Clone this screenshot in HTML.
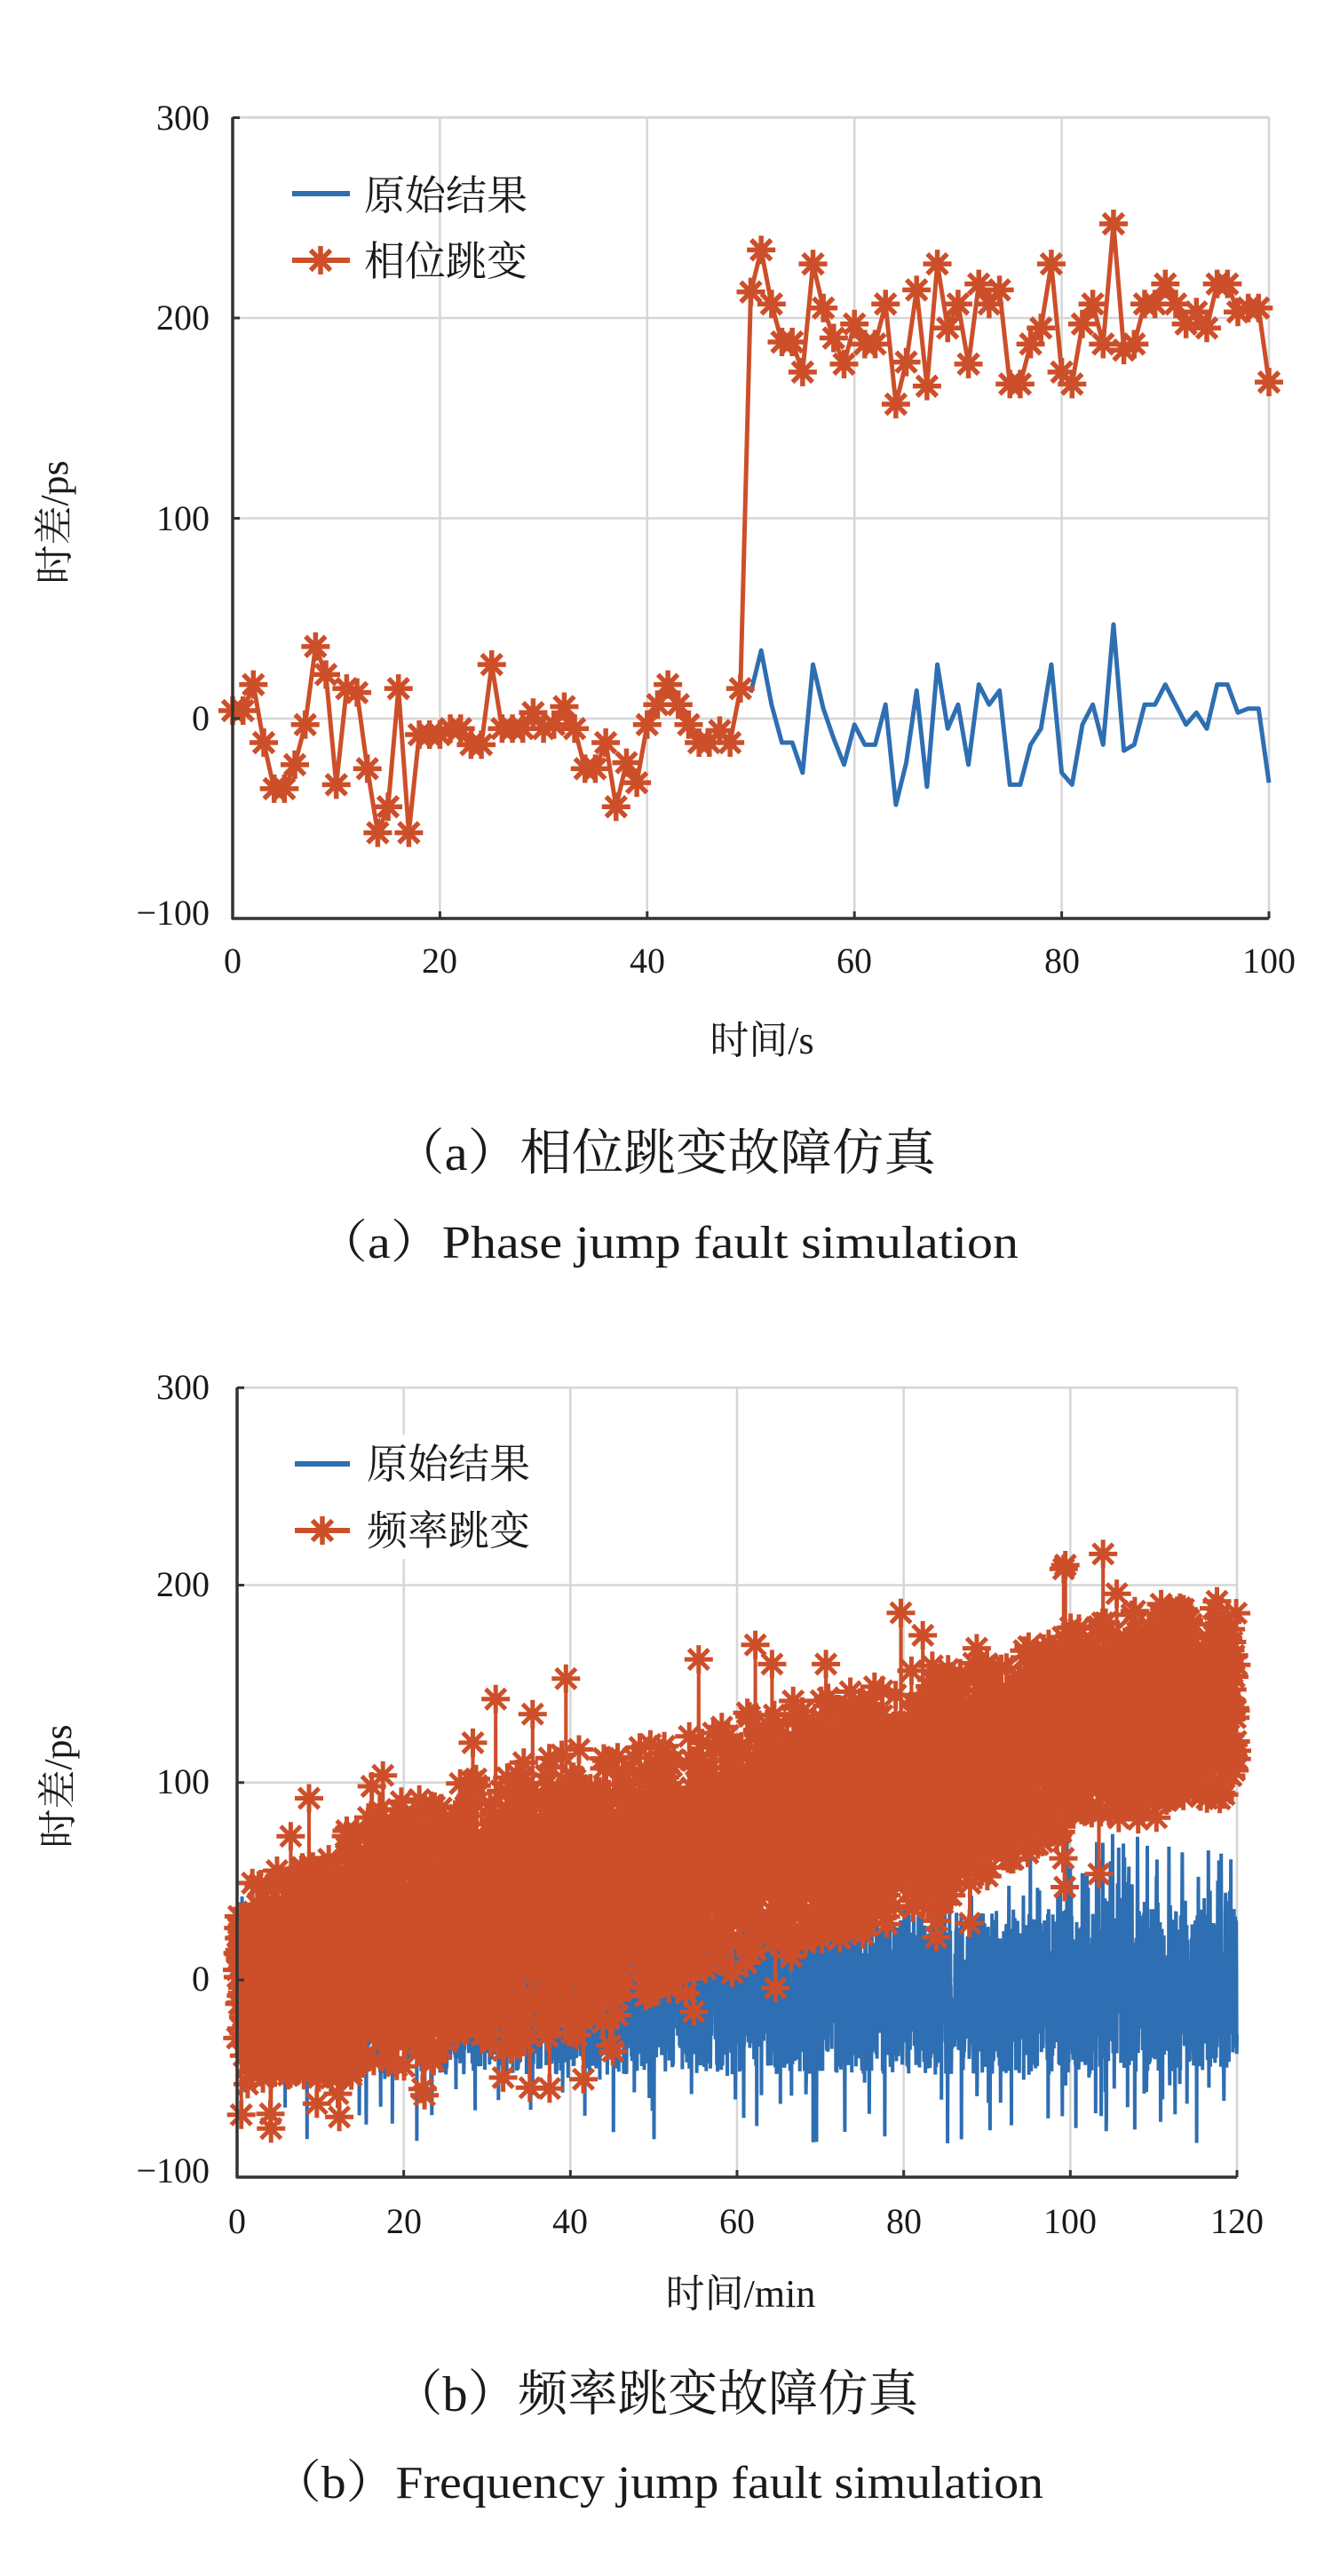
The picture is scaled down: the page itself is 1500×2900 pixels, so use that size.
<!DOCTYPE html>
<html><head><meta charset="utf-8"><style>
html,body{margin:0;padding:0;background:#fff;}
svg{display:block;}
text{font-family:"Liberation Serif","Noto Serif CJK SC",serif;fill:#1a1a1a;}
</style></head><body>
<svg id="s" width="1500" height="2900" viewBox="0 0 1500 2900" xmlns="http://www.w3.org/2000/svg">
<rect width="1500" height="2900" fill="#fff"/>
<g id="g1"></g>
<g id="g2"></g>
<g font-size="40" text-anchor="end">
<text x="236" y="146">300</text>
<text x="236" y="371">200</text>
<text x="236" y="597">100</text>
<text x="236" y="822">0</text>
<text x="236" y="1041">−100</text>
</g>
<g font-size="40" text-anchor="middle">
<text x="262" y="1095">0</text>
<text x="495" y="1095">20</text>
<text x="729" y="1095">40</text>
<text x="962" y="1095">60</text>
<text x="1196" y="1095">80</text>
<text x="1429" y="1095">100</text>
</g>
<text x="858" y="1186" font-size="44" text-anchor="middle">时间/s</text>
<text transform="translate(76,588) rotate(-90)" font-size="44" text-anchor="middle">时差/ps</text>
<text x="410" y="236" font-size="46">原始结果</text>
<text x="410" y="310" font-size="46">相位跳变</text>
<text x="442" y="1317" font-size="56" textLength="612" lengthAdjust="spacingAndGlyphs">（a）相位跳变故障仿真</text>
<text x="356" y="1416" font-size="52" textLength="791" lengthAdjust="spacingAndGlyphs">（a）Phase jump fault simulation</text>
<g font-size="40" text-anchor="end">
<text x="236" y="1575">300</text>
<text x="236" y="1797">200</text>
<text x="236" y="2019">100</text>
<text x="236" y="2241">0</text>
<text x="236" y="2457">−100</text>
</g>
<g font-size="40" text-anchor="middle">
<text x="267" y="2514">0</text>
<text x="455" y="2514">20</text>
<text x="642" y="2514">40</text>
<text x="830" y="2514">60</text>
<text x="1018" y="2514">80</text>
<text x="1205" y="2514">100</text>
<text x="1393" y="2514">120</text>
</g>
<text x="834" y="2597" font-size="44" text-anchor="middle">时间/min</text>
<text transform="translate(80,2011) rotate(-90)" font-size="44" text-anchor="middle">时差/ps</text>
<text x="413" y="1664" font-size="46">原始结果</text>
<text x="413" y="1739" font-size="46">频率跳变</text>
<text x="442" y="2714" font-size="56" textLength="592" lengthAdjust="spacingAndGlyphs">（b）频率跳变故障仿真</text>
<text x="306" y="2812" font-size="52" textLength="869" lengthAdjust="spacingAndGlyphs">（b）Frequency jump fault simulation</text>
</svg>
<script>
var NS="http://www.w3.org/2000/svg";
var OR="#CD4F2A",BL="#2E6EB2";
function el(p,tag,a){var e=document.createElementNS(NS,tag);for(var k in a)e.setAttribute(k,a[k]);p.appendChild(e);return e;}
function star(x,y,r){var d="",c=r*0.7071;
d+="M"+(x-r)+" "+y+"h"+(2*r)+"M"+x+" "+(y-r)+"v"+(2*r);
d+="M"+(x-c).toFixed(1)+" "+(y-c).toFixed(1)+"l"+(2*c).toFixed(1)+" "+(2*c).toFixed(1)+"M"+(x-c).toFixed(1)+" "+(y+c).toFixed(1)+"l"+(2*c).toFixed(1)+" "+(-2*c).toFixed(1);return d;}
function frame(g,L,R,T,B,xt,yt){
  xt.forEach(function(x){el(g,"line",{x1:x,x2:x,y1:T,y2:B,stroke:"#d6d6d6","stroke-width":2.5});});
  yt.forEach(function(y){el(g,"line",{x1:L,x2:R,y1:y,y2:y,stroke:"#d6d6d6","stroke-width":2.5});});
  el(g,"line",{x1:R,x2:R,y1:T,y2:B,stroke:"#d6d6d6","stroke-width":2.5});
  el(g,"line",{x1:L,x2:R,y1:T,y2:T,stroke:"#d6d6d6","stroke-width":2.5});
}
function axes(g,L,R,T,B,xt,yt){
  el(g,"line",{x1:L,x2:L,y1:T,y2:B+1,stroke:"#333","stroke-width":3.5});
  el(g,"line",{x1:L-1,x2:R,y1:B,y2:B,stroke:"#333","stroke-width":3.5});
  yt.forEach(function(y){el(g,"line",{x1:L,x2:L+8,y1:y,y2:y,stroke:"#333","stroke-width":3});});
  xt.forEach(function(x){el(g,"line",{x1:x,x2:x,y1:B,y2:B-8,stroke:"#333","stroke-width":3});});
}
(function(){
var g=document.getElementById("g1");
var L=262,R=1429,T=132,B=1034;
var X=function(t){return L+t*(R-L)/100;},Y=function(v){return 809-v*2.255;};
var xt=[],yt=[];for(var i=0;i<=5;i++)xt.push(X(i*20));for(var j=0;j<4;j++)yt.push(Y(300-j*100));
frame(g,L,R,T,B,xt,yt);
var o=[4,4,17,-12,-35,-35,-23,-3,36,22,-33,15,13,-25,-57,-44,15,-57,-8,-8,-8,-5,-5,-13,-13,27,-5,-5,-5,3,-5,-3,6,-5,-25,-25,-12,-44,-22,-32,-3,7,17,7,-3,-12,-12,-6,-12,15];
var b=[13,34,7,-12,-12,-27,27,5,-10,-23,-3,-13,-13,7,-43,-22,14,-34,27,-5,7,-23,17,7,14,-33,-33,-13,-5,27,-27,-33,-3,7,-13,47,-16,-13,7,7,17,7,-3,3,-5,17,17,3,5,5,-32];
var ov=o.concat(b.map(function(v){return v+200;}));
var d="";for(var t=50;t<=100;t++)d+=(t==50?"M":"L")+X(t)+" "+Y(b[t-50]);
el(g,"path",{d:d,fill:"none",stroke:BL,"stroke-width":5,"stroke-linejoin":"round"});
d="";for(var t=0;t<=100;t++)d+=(t==0?"M":"L")+X(t)+" "+Y(ov[t]);
el(g,"path",{d:d,fill:"none",stroke:OR,"stroke-width":5,"stroke-linejoin":"round"});
var m="";for(var t=0;t<=100;t++)m+=star(X(t),Y(ov[t]),16);
el(g,"path",{d:m,fill:"none",stroke:OR,"stroke-width":5.5});
axes(g,L,R,T,B,xt,yt);
el(g,"line",{x1:329,x2:394,y1:218,y2:218,stroke:BL,"stroke-width":6});
el(g,"line",{x1:329,x2:394,y1:293,y2:293,stroke:OR,"stroke-width":6});
el(g,"path",{d:star(361,293,16),fill:"none",stroke:OR,"stroke-width":5.5});
})();
(function(){
var g=document.getElementById("g2");
var L=267,R=1393,T=1562,B=2451;
var X=function(t){return L+t*(R-L)/120;},Y=function(v){return 2229-v*2.2225;};
var xt=[],yt=[];for(var i=0;i<=6;i++)xt.push(X(i*20));for(var j=0;j<4;j++)yt.push(Y(300-j*100));
frame(g,L,R,T,B,xt,yt);
var s=12345;function rnd(){s=(s*1103515245+12345)%2147483648;return s/2147483648;}
var KT=[0,20,40,50,60,80,100,120],
    TOP=[50,95,118,126,136,160,182,200],
    BOT=[-58,-47,-34,-12,0,28,70,90];
function interp(a,t){for(var k=0;k<KT.length-1;k++){if(t<=KT[k+1]){var f=(t-KT[k])/(KT[k+1]-KT[k]);return a[k]+f*(a[k+1]-a[k]);}}return a[a.length-1];}
var N=3600,bl=[],orv=[];
for(var i=0;i<=N;i++){var t=i*120/N;var v=-6+(rnd()*2-1)*42;
 var r=rnd(); if(r<0.02)v=-48-rnd()*35; else if(r<0.035)v=34+rnd()*15;
 if(t>95&&rnd()<0.05)v=40+rnd()*35;
 bl.push(v);
 var tp=interp(TOP,t),bt=interp(BOT,t);
 var u=rnd(); u=u<0.5?Math.pow(2*u,0.6)/2:1-Math.pow(2*(1-u),0.6)/2;
 var ov=bt+(tp-bt)*u; var q=rnd(); if(q<0.004)ov=tp+8+rnd()*28; else if(q<0.008)ov=bt-6-rnd()*16;
 orv.push(ov);}
var d="";for(var i=0;i<=N;i++)d+=(i==0?"M":"L")+X(i*120/N).toFixed(1)+" "+Y(bl[i]).toFixed(1);
el(g,"path",{d:d,fill:"none",stroke:BL,"stroke-width":4});
d="";for(var i=0;i<=N;i++)d+=(i==0?"M":"L")+X(i*120/N).toFixed(1)+" "+Y(orv[i]).toFixed(1);
el(g,"path",{d:d,fill:"none",stroke:OR,"stroke-width":4});
var m="";for(var i=0;i<=N;i++)m+=star(+X(i*120/N).toFixed(1),+Y(orv[i]).toFixed(1),16);
el(g,"path",{d:m,fill:"none",stroke:OR,"stroke-width":5});
axes(g,L,R,T,B,xt,yt);
el(g,"rect",{x:320,y:1615,width:290,height:140,fill:"#fff"});
el(g,"line",{x1:332,x2:394,y1:1648,y2:1648,stroke:BL,"stroke-width":6});
el(g,"line",{x1:332,x2:394,y1:1723,y2:1723,stroke:OR,"stroke-width":6});
el(g,"path",{d:star(363,1723,16),fill:"none",stroke:OR,"stroke-width":5.5});
})();
</script>
</body></html>
